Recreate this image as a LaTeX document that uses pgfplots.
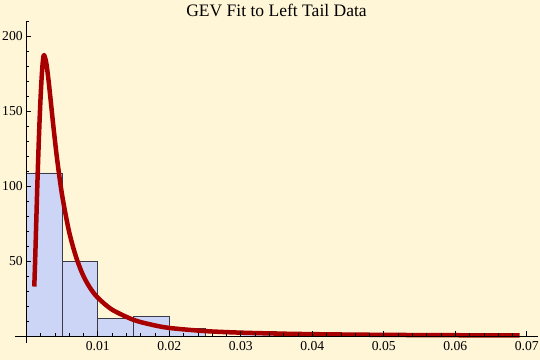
\documentclass[border=0pt]{standalone}
\usepackage{pgfplots}
\pgfplotsset{compat=1.18}
\usepackage{fontspec}
\setmainfont{Liberation Serif}
\definecolor{bg}{HTML}{FFF5D7}
\definecolor{barfill}{HTML}{CCD5F5}
\definecolor{curvec}{HTML}{A80000}
\definecolor{edge}{HTML}{3A3A4A}
\begin{document}
\begin{tikzpicture}[x=1bp,y=1bp]
\fill[bg] (0,0) rectangle (540,360);
\useasboundingbox (0,0) rectangle (540,360);
\node[anchor=base, font=\fontsize{17.6}{20}\selectfont] at (276.5,343.3) {GEV Fit to Left Tail Data};
\begin{axis}[
  at={(15bp,17.3bp)}, anchor=south west,
  scale only axis, width=523bp, height=321.7bp,
  xmin=-0.00157, xmax=0.07158, ymin=-4.45, ymax=210,
  axis lines=middle, axis line style={-, line width=0.6bp, black},
  axis on top,
  tick align=inside,
  scaled x ticks=false, scaled y ticks=false,
  major tick length=5bp, minor tick length=3bp,
  every tick/.style={black, line width=0.6bp},
  xtick={0.01,0.02,0.03,0.04,0.05,0.06,0.07},
  xticklabels={0.01,0.02,0.03,0.04,0.05,0.06,0.07},
  minor xtick={0.002,0.004,0.006,0.008,0.012,0.014,0.016,0.018,0.022,0.024,0.026,0.028,0.032,0.034,0.036,0.038,0.042,0.044,0.046,0.048,0.052,0.054,0.056,0.058,0.062,0.064,0.066,0.068},
  ytick={50,100,150,200},
  yticklabels={50,100,150,200},
  minor ytick={10,20,30,40,60,70,80,90,110,120,130,140,160,170,180,190,210},
  /pgf/number format/assume math mode=true,
  ticklabel style={font=\fontsize{13.7}{16}\selectfont},
  xticklabel style={yshift=-1.5bp},
  clip=false,
]
\addplot[ybar interval, fill=barfill, draw=edge, line width=0.6bp] coordinates {
(0,108.8) (0.005,49.6) (0.01,11.7) (0.015,13.1) (0.02,5.1) (0.025,0) (0.03,2.9) (0.035,0)
};
\addplot[curvec, line width=4.5bp, smooth, line join=round, line cap=butt] coordinates {
(0.00113,33) (0.00127,54) (0.00141,77) (0.00155,100) (0.0017,122) (0.00187,144)
(0.00205,163) (0.00222,177) (0.00237,185) (0.0025,187.3)
(0.0028,182.2) (0.0031,171.3) (0.0034,158) (0.0038,139.7) (0.0043,118.7)
(0.005,94.5) (0.006,69.5) (0.007,52.3) (0.008,40) (0.009,31.6) (0.010,25.6)
(0.012,17.6) (0.015,10.8) (0.0175,7.6) (0.02,5.4) (0.025,3.3) (0.03,2.25)
(0.035,1.65) (0.04,1.25) (0.045,0.98) (0.05,0.78) (0.055,0.64) (0.06,0.53)
(0.065,0.45) (0.069,0.40)
};
\end{axis}
\end{tikzpicture}
\end{document}
